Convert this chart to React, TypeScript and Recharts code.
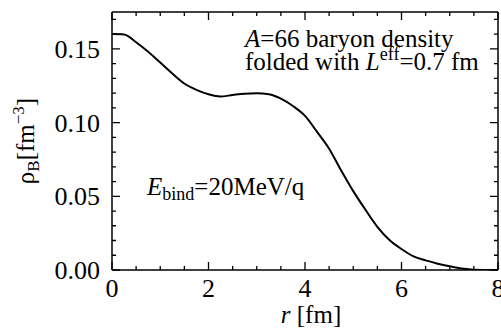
import React from "react";
import { LineChart, Line, XAxis, YAxis, ReferenceLine } from "recharts";

const radius = [0, 0.25, 0.5, 0.75, 1, 1.25, 1.5, 1.75, 2, 2.25, 2.5, 2.75, 3, 3.25, 3.5, 3.75, 4, 4.25, 4.5, 4.75, 5, 5.25, 5.5, 5.75, 6, 6.25, 6.5, 6.75, 7, 7.25, 7.5, 8];
const density = [0.160, 0.1598, 0.1545, 0.148, 0.1407, 0.1333, 0.1265, 0.1222, 0.1192, 0.1177, 0.1187, 0.1196, 0.1199, 0.1192, 0.1162, 0.1112, 0.1045, 0.0937, 0.0823, 0.0675, 0.0535, 0.041, 0.0293, 0.0203, 0.0142, 0.0092, 0.0065, 0.0043, 0.0025, 0.001, 0.0002, 0];
const xTicks = [0, 0.5, 1, 1.5, 2, 2.5, 3, 3.5, 4, 4.5, 5, 5.5, 6, 6.5, 7, 7.5, 8];
const yTicks = [0, 0.01, 0.02, 0.03, 0.04, 0.05, 0.06, 0.07, 0.08, 0.09, 0.1, 0.11, 0.12, 0.13, 0.14, 0.15, 0.16, 0.17];
const xDomain = [0, 8];
const yDomain = [0, 0.175];

const data = radius.map((r, i) => ({ r, rho: density[i] }));

const W = 501;
const H = 329;
const M = { top: 12, right: 3, bottom: 0, left: 0 };
const Y_AXIS_W = 112;
const X_AXIS_H = 59;
const PLOT_TOP = M.top;
const PLOT_BOTTOM = H - M.bottom - X_AXIS_H;
const PLOT_LEFT = M.left + Y_AXIS_W;
const PLOT_RIGHT = W - M.right;
const FONT = "Liberation Serif";

const renderXTick = (props: any) => {
  const { x, payload } = props;
  const v = payload.value;
  const major = Math.abs(v / 2 - Math.round(v / 2)) < 1e-6;
  const len = major ? 8 : 4;
  return (
    <g key={`xt-${v}`}>
      <path d={`M${x},${PLOT_BOTTOM}V${PLOT_BOTTOM - len}M${x},${PLOT_TOP}V${PLOT_TOP + len}`} stroke="#000" strokeWidth={1.3} fill="none" />
      {major && (
        <text x={x} y={PLOT_BOTTOM + 27} textAnchor="middle" style={{ fontFamily: FONT, fontSize: 26 }} fill="#000" stroke="none">
          {String(v)}
        </text>
      )}
    </g>
  );
};

const renderYTick = (props: any) => {
  const { y, payload } = props;
  const v = payload.value;
  const major = Math.round(v * 100) % 5 === 0;
  const len = major ? 8 : 4;
  return (
    <g key={`yt-${v}`}>
      <path d={`M${PLOT_LEFT},${y}H${PLOT_LEFT + len}M${PLOT_RIGHT},${y}H${PLOT_RIGHT - len}`} stroke="#000" strokeWidth={1.3} fill="none" />
      {major && (
        <text x={PLOT_LEFT - 12} y={y + 9} textAnchor="end" style={{ fontFamily: FONT, fontSize: 26 }} fill="#000" stroke="none">
          {v.toFixed(2)}
        </text>
      )}
    </g>
  );
};

export default function App() {
  return (
    <div style={{ position: "absolute", left: 0, top: 0, width: W, height: H, background: "#fff", fontFamily: FONT }}>
      <LineChart width={W} height={H} data={data} margin={M}>
        <XAxis
          dataKey="r"
          type="number"
          domain={xDomain}
          ticks={xTicks}
          interval={0}
          tick={renderXTick}
          tickLine={false}
          axisLine={{ stroke: "#000", strokeWidth: 1.5 }}
          height={X_AXIS_H}
          allowDataOverflow
        />
        <YAxis
          type="number"
          domain={yDomain}
          ticks={yTicks}
          interval={0}
          tick={renderYTick}
          tickLine={false}
          axisLine={{ stroke: "#000", strokeWidth: 1.5 }}
          width={Y_AXIS_W}
          allowDataOverflow
        />
        <ReferenceLine y={yDomain[1]} stroke="#000" strokeWidth={1.5} />
        <ReferenceLine x={xDomain[1]} stroke="#000" strokeWidth={1.5} />
        <Line
          type="monotone"
          dataKey="rho"
          stroke="#000"
          strokeWidth={2}
          dot={false}
          isAnimationActive={false}
        />
      </LineChart>
      <svg
        width={W}
        height={H}
        style={{ position: "absolute", left: 0, top: 0, pointerEvents: "none", fontFamily: FONT }}
        fill="#000"
      >
        <text x={245} y={47} fontSize={25}>
          <tspan fontStyle="italic">A</tspan>=66 baryon density
        </text>
        <text x={245} y={70} fontSize={25}>
          folded with <tspan fontStyle="italic">L</tspan>
          <tspan fontSize={18} dy={-10}>eff</tspan>
          <tspan dy={10}>=0.7 fm</tspan>
        </text>
        <text x={147} y={195} fontSize={25}>
          <tspan fontStyle="italic">E</tspan>
          <tspan fontSize={18} dy={5}>bind</tspan>
          <tspan dy={-5}>=20MeV/q</tspan>
        </text>
        <text x={311} y={323} fontSize={25} textAnchor="middle">
          <tspan fontStyle="italic">r</tspan> [fm]
        </text>
        <text
          x={0}
          y={0}
          fontSize={25}
          textAnchor="middle"
          transform={`translate(34, ${(PLOT_TOP + PLOT_BOTTOM) / 2}) rotate(-90)`}
        >
          ρ<tspan fontSize={17} dy={5}>B</tspan>
          <tspan dy={-5}>[fm</tspan>
          <tspan fontSize={17} dy={-10}>−3</tspan>
          <tspan dy={10}>]</tspan>
        </text>
      </svg>
    </div>
  );
}
